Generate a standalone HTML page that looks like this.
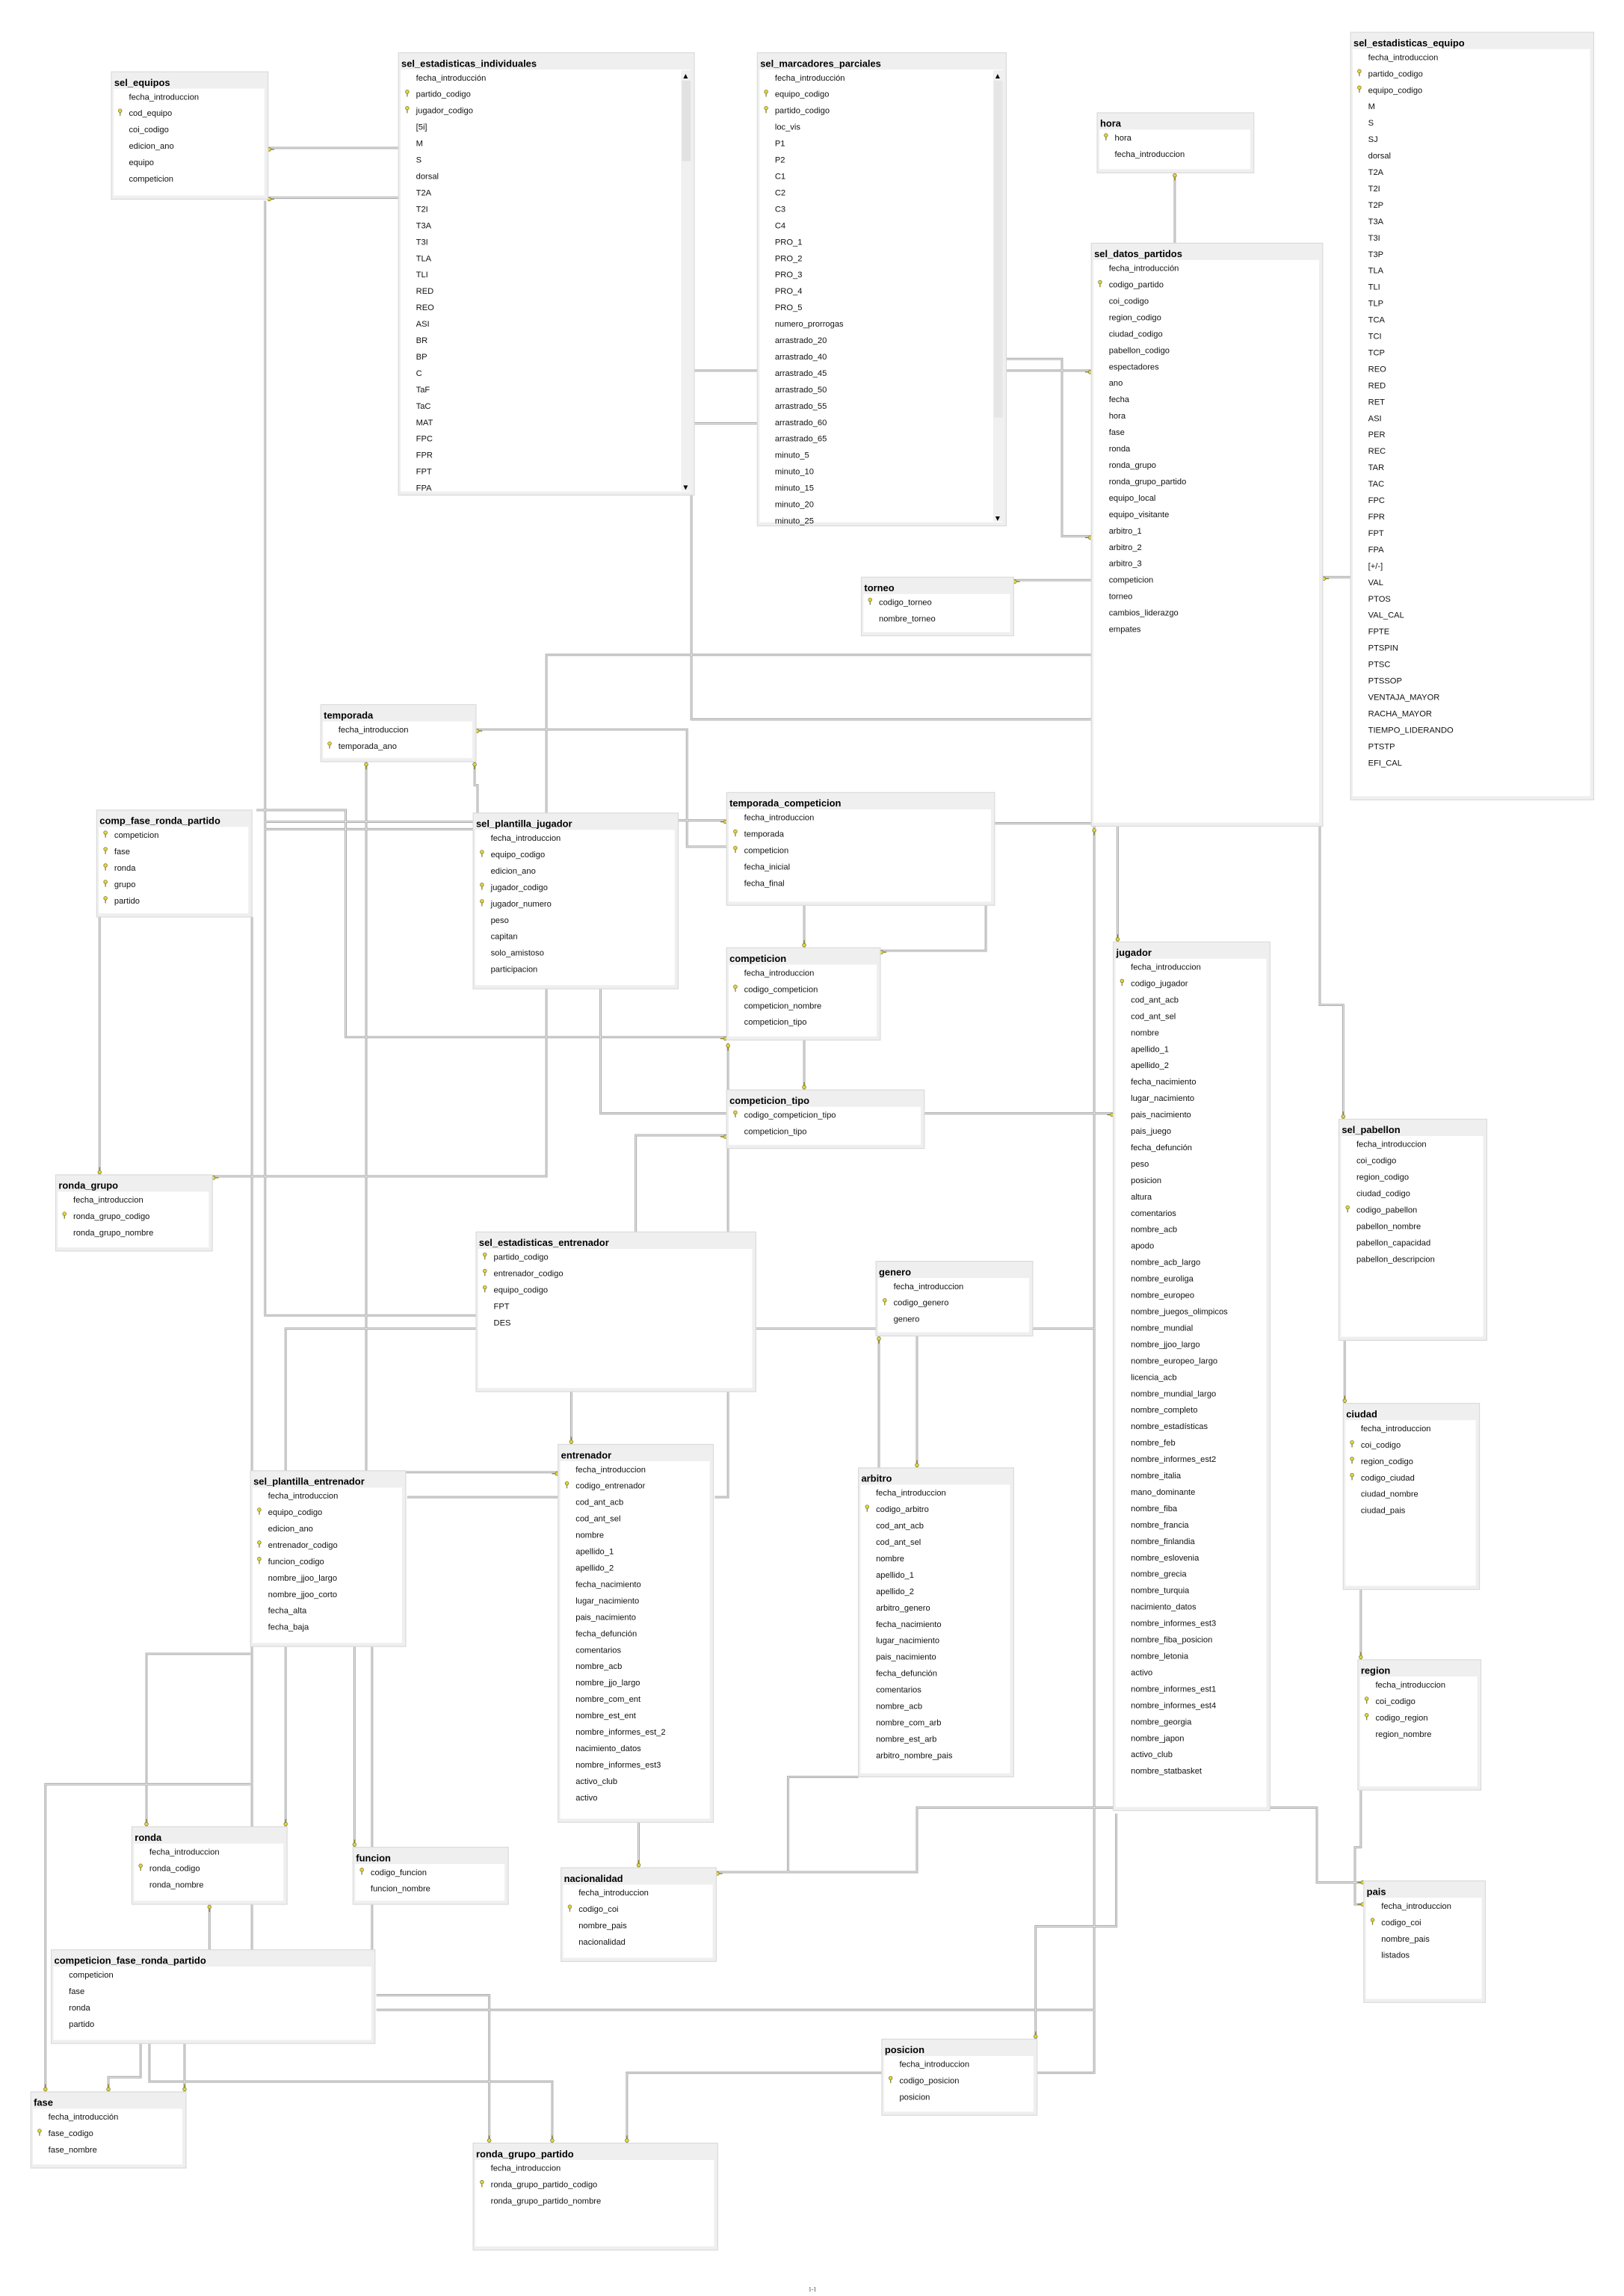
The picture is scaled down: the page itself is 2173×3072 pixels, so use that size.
<!DOCTYPE html>
<html><head><meta charset="utf-8"><style>
html,body{margin:0;padding:0;background:#fff}
svg{display:block}
.t{font-family:"Liberation Sans",sans-serif;font-weight:bold;font-size:6.6px;fill:#000}
.r{font-family:"Liberation Sans",sans-serif;font-size:5.7px;fill:#111}
.c1{fill:none;stroke:#a8a8a8;stroke-width:1.5}
.c2{fill:none;stroke:#f2f2f2;stroke-width:.45}
</style></head><body>
<svg width="2173" height="3072" viewBox="0 0 1108.67 1567.35" preserveAspectRatio="none" xmlns="http://www.w3.org/2000/svg" xmlns:xlink="http://www.w3.org/1999/xlink">
<defs>
<g id="k"><circle cx="0" cy="-1.2" r="1.2" fill="#e8d43c" stroke="#6b6b2a" stroke-width=".35"/><rect x="-.35" y="-.2" width=".7" height="2.4" fill="#8a8a30"/></g>
<path id="p" fill="none" d="M183,101H272M183,135H272M181,137V898H325M472,338V491H745M474,253H517M474,289H517M687,245H725V366H745M687,253H745M802,118V166M692,396H745M903,394H922M745,447H373V803H145M679,562H745M747,564V1415H428V1463M763,564V643M901,564V686H917V764M918,915V958M929,1085V1133M929,1222V1261H925V1300H931M867,1234H899V1285H931M760,1234H626V1278H489M586,1213H538V1278M762,1238V1315H707V1392M598,907H195V1247M705,907H747M600,912V1002M626,912V1002M434,841V775H496M549,710V744M549,618V647M673,618V649H601M631,760H760M410,675V760H496M325,498H469V578H496M463,560H496M324,520V536H326V555M250,520V1004M175,553H236V708H496M181,561H323M181,566H323M68,626V802M172,626V1331M171,1129H100V1247M171,1218H31V1428M277,1005H381M278,1022H381M488,1022H497V712M390,950V986M436,1244V1275M242,1124V1261M254,1124V1331M143,1300V1331M96,1395V1418H74V1428M102,1395V1421H377V1463M126,1395V1428M257,1362H334V1463M257,1372H747"/>
</defs>
<use xlink:href="#p" class="c1"/>
<use xlink:href="#p" class="c2"/>

<g>
<use xlink:href="#k" transform="translate(185,102) rotate(-90)"/><use xlink:href="#k" transform="translate(185,136) rotate(-90)"/>
<use xlink:href="#k" transform="translate(743,367) rotate(90)"/><use xlink:href="#k" transform="translate(743,254) rotate(90)"/>
<use xlink:href="#k" transform="translate(802,121)"/><use xlink:href="#k" transform="translate(694,397) rotate(-90)"/>
<use xlink:href="#k" transform="translate(905,395) rotate(-90)"/><use xlink:href="#k" transform="translate(147,804) rotate(-90)"/>
<use xlink:href="#k" transform="translate(747,568)"/><use xlink:href="#k" transform="translate(763,640) rotate(180)"/>
<use xlink:href="#k" transform="translate(917,761) rotate(180)"/><use xlink:href="#k" transform="translate(918,955) rotate(180)"/>
<use xlink:href="#k" transform="translate(929,1130) rotate(180)"/><use xlink:href="#k" transform="translate(929,1300) rotate(90)"/>
<use xlink:href="#k" transform="translate(929,1285) rotate(90)"/><use xlink:href="#k" transform="translate(491,1279) rotate(-90)"/>
<use xlink:href="#k" transform="translate(707,1389) rotate(180)"/><use xlink:href="#k" transform="translate(195,1244) rotate(180)"/>
<use xlink:href="#k" transform="translate(600,915)"/><use xlink:href="#k" transform="translate(626,999) rotate(180)"/>
<use xlink:href="#k" transform="translate(494,776) rotate(90)"/><use xlink:href="#k" transform="translate(549,741) rotate(180)"/>
<use xlink:href="#k" transform="translate(549,644) rotate(180)"/><use xlink:href="#k" transform="translate(603,650) rotate(-90)"/>
<use xlink:href="#k" transform="translate(758,761) rotate(90)"/><use xlink:href="#k" transform="translate(327,499) rotate(-90)"/>
<use xlink:href="#k" transform="translate(494,561) rotate(90)"/><use xlink:href="#k" transform="translate(324,523)"/>
<use xlink:href="#k" transform="translate(250,523)"/><use xlink:href="#k" transform="translate(494,709) rotate(90)"/>
<use xlink:href="#k" transform="translate(68,799) rotate(180)"/><use xlink:href="#k" transform="translate(100,1244) rotate(180)"/>
<use xlink:href="#k" transform="translate(31,1425) rotate(180)"/><use xlink:href="#k" transform="translate(379,1006) rotate(90)"/>
<use xlink:href="#k" transform="translate(497,715)"/><use xlink:href="#k" transform="translate(390,983) rotate(180)"/>
<use xlink:href="#k" transform="translate(436,1272) rotate(180)"/><use xlink:href="#k" transform="translate(242,1258) rotate(180)"/>
<use xlink:href="#k" transform="translate(143,1303)"/><use xlink:href="#k" transform="translate(74,1425) rotate(180)"/>
<use xlink:href="#k" transform="translate(377,1460) rotate(180)"/><use xlink:href="#k" transform="translate(126,1425) rotate(180)"/>
<use xlink:href="#k" transform="translate(334,1460) rotate(180)"/><use xlink:href="#k" transform="translate(428,1460) rotate(180)"/>
</g>

<g transform="translate(76,49)"><rect width="107" height="87" fill="#efefef" stroke="#dadada" stroke-width=".6"/><rect x="1.5" y="11.5" width="103" height="73" fill="#fff"/>
<text class="t" x="2" y="9.6">sel_equipos</text>
<text class="r" y="19"><tspan x="12">fecha_introduccion</tspan><tspan x="12" dy="11.2">cod_equipo</tspan><tspan x="12" dy="11.2">coi_codigo</tspan><tspan x="12" dy="11.2">edicion_ano</tspan><tspan x="12" dy="11.2">equipo</tspan><tspan x="12" dy="11.2">competicion</tspan></text>
<use xlink:href="#k" x="6" y="27.8"/></g>

<g transform="translate(272,36)"><rect width="202" height="302" fill="#efefef" stroke="#dadada" stroke-width=".6"/><rect x="1.5" y="11.5" width="198" height="288" fill="#fff"/>
<rect x="193" y="12" width="7" height="287" fill="#f0f0f0"/><rect x="193.5" y="19" width="6" height="55" fill="#e2e2e2"/>
<text x="194.5" y="17" style="font-size:4px;font-family:'DejaVu Sans'">▲</text><text x="194.5" y="298" style="font-size:4px;font-family:'DejaVu Sans'">▼</text>
<text class="t" x="2" y="9.6">sel_estadisticas_individuales</text>
<text class="r" y="19"><tspan x="12">fecha_introducción</tspan><tspan x="12" dy="11.2">partido_codigo</tspan><tspan x="12" dy="11.2">jugador_codigo</tspan><tspan x="12" dy="11.2">[5i]</tspan><tspan x="12" dy="11.2">M</tspan><tspan x="12" dy="11.2">S</tspan><tspan x="12" dy="11.2">dorsal</tspan><tspan x="12" dy="11.2">T2A</tspan><tspan x="12" dy="11.2">T2I</tspan><tspan x="12" dy="11.2">T3A</tspan><tspan x="12" dy="11.2">T3I</tspan><tspan x="12" dy="11.2">TLA</tspan><tspan x="12" dy="11.2">TLI</tspan><tspan x="12" dy="11.2">RED</tspan><tspan x="12" dy="11.2">REO</tspan><tspan x="12" dy="11.2">ASI</tspan><tspan x="12" dy="11.2">BR</tspan><tspan x="12" dy="11.2">BP</tspan><tspan x="12" dy="11.2">C</tspan><tspan x="12" dy="11.2">TaF</tspan><tspan x="12" dy="11.2">TaC</tspan><tspan x="12" dy="11.2">MAT</tspan><tspan x="12" dy="11.2">FPC</tspan><tspan x="12" dy="11.2">FPR</tspan><tspan x="12" dy="11.2">FPT</tspan><tspan x="12" dy="11.2">FPA</tspan></text>
<use xlink:href="#k" x="6" y="27.8"/><use xlink:href="#k" x="6" y="39"/></g>

<g transform="translate(517,36)"><rect width="170" height="323" fill="#efefef" stroke="#dadada" stroke-width=".6"/><rect x="1.5" y="11.5" width="166" height="309" fill="#fff"/>
<rect x="161" y="12" width="7" height="308" fill="#f0f0f0"/><rect x="161.5" y="19" width="6" height="230" fill="#e6e6e6"/>
<text x="162.5" y="17" style="font-size:4px;font-family:'DejaVu Sans'">▲</text><text x="162.5" y="319" style="font-size:4px;font-family:'DejaVu Sans'">▼</text>
<text class="t" x="2" y="9.6">sel_marcadores_parciales</text>
<text class="r" y="19"><tspan x="12">fecha_introducción</tspan><tspan x="12" dy="11.2">equipo_codigo</tspan><tspan x="12" dy="11.2">partido_codigo</tspan><tspan x="12" dy="11.2">loc_vis</tspan><tspan x="12" dy="11.2">P1</tspan><tspan x="12" dy="11.2">P2</tspan><tspan x="12" dy="11.2">C1</tspan><tspan x="12" dy="11.2">C2</tspan><tspan x="12" dy="11.2">C3</tspan><tspan x="12" dy="11.2">C4</tspan><tspan x="12" dy="11.2">PRO_1</tspan><tspan x="12" dy="11.2">PRO_2</tspan><tspan x="12" dy="11.2">PRO_3</tspan><tspan x="12" dy="11.2">PRO_4</tspan><tspan x="12" dy="11.2">PRO_5</tspan><tspan x="12" dy="11.2">numero_prorrogas</tspan><tspan x="12" dy="11.2">arrastrado_20</tspan><tspan x="12" dy="11.2">arrastrado_40</tspan><tspan x="12" dy="11.2">arrastrado_45</tspan><tspan x="12" dy="11.2">arrastrado_50</tspan><tspan x="12" dy="11.2">arrastrado_55</tspan><tspan x="12" dy="11.2">arrastrado_60</tspan><tspan x="12" dy="11.2">arrastrado_65</tspan><tspan x="12" dy="11.2">minuto_5</tspan><tspan x="12" dy="11.2">minuto_10</tspan><tspan x="12" dy="11.2">minuto_15</tspan><tspan x="12" dy="11.2">minuto_20</tspan><tspan x="12" dy="11.2">minuto_25</tspan></text>
<use xlink:href="#k" x="6" y="27.8"/><use xlink:href="#k" x="6" y="39"/></g>

<g transform="translate(922,22)"><rect width="166" height="524" fill="#efefef" stroke="#dadada" stroke-width=".6"/><rect x="1.5" y="11.5" width="162" height="510" fill="#fff"/>
<text class="t" x="2" y="9.6">sel_estadisticas_equipo</text>
<text class="r" y="19"><tspan x="12">fecha_introduccion</tspan><tspan x="12" dy="11.2">partido_codigo</tspan><tspan x="12" dy="11.2">equipo_codigo</tspan><tspan x="12" dy="11.2">M</tspan><tspan x="12" dy="11.2">S</tspan><tspan x="12" dy="11.2">SJ</tspan><tspan x="12" dy="11.2">dorsal</tspan><tspan x="12" dy="11.2">T2A</tspan><tspan x="12" dy="11.2">T2I</tspan><tspan x="12" dy="11.2">T2P</tspan><tspan x="12" dy="11.2">T3A</tspan><tspan x="12" dy="11.2">T3I</tspan><tspan x="12" dy="11.2">T3P</tspan><tspan x="12" dy="11.2">TLA</tspan><tspan x="12" dy="11.2">TLI</tspan><tspan x="12" dy="11.2">TLP</tspan><tspan x="12" dy="11.2">TCA</tspan><tspan x="12" dy="11.2">TCI</tspan><tspan x="12" dy="11.2">TCP</tspan><tspan x="12" dy="11.2">REO</tspan><tspan x="12" dy="11.2">RED</tspan><tspan x="12" dy="11.2">RET</tspan><tspan x="12" dy="11.2">ASI</tspan><tspan x="12" dy="11.2">PER</tspan><tspan x="12" dy="11.2">REC</tspan><tspan x="12" dy="11.2">TAR</tspan><tspan x="12" dy="11.2">TAC</tspan><tspan x="12" dy="11.2">FPC</tspan><tspan x="12" dy="11.2">FPR</tspan><tspan x="12" dy="11.2">FPT</tspan><tspan x="12" dy="11.2">FPA</tspan><tspan x="12" dy="11.2">[+/-]</tspan><tspan x="12" dy="11.2">VAL</tspan><tspan x="12" dy="11.2">PTOS</tspan><tspan x="12" dy="11.2">VAL_CAL</tspan><tspan x="12" dy="11.2">FPTE</tspan><tspan x="12" dy="11.2">PTSPIN</tspan><tspan x="12" dy="11.2">PTSC</tspan><tspan x="12" dy="11.2">PTSSOP</tspan><tspan x="12" dy="11.2">VENTAJA_MAYOR</tspan><tspan x="12" dy="11.2">RACHA_MAYOR</tspan><tspan x="12" dy="11.2">TIEMPO_LIDERANDO</tspan><tspan x="12" dy="11.2">PTSTP</tspan><tspan x="12" dy="11.2">EFI_CAL</tspan></text>
<use xlink:href="#k" x="6" y="27.8"/><use xlink:href="#k" x="6" y="39"/></g>

<g transform="translate(749,77)"><rect width="107" height="41" fill="#efefef" stroke="#dadada" stroke-width=".6"/><rect x="1.5" y="11.5" width="103" height="27" fill="#fff"/>
<text class="t" x="2" y="9.6">hora</text>
<text class="r" y="19"><tspan x="12">hora</tspan><tspan x="12" dy="11.2">fecha_introduccion</tspan></text>
<use xlink:href="#k" x="6" y="16.6"/></g>

<g transform="translate(745,166)"><rect width="158" height="398" fill="#efefef" stroke="#dadada" stroke-width=".6"/><rect x="1.5" y="11.5" width="154" height="384" fill="#fff"/>
<text class="t" x="2" y="9.6">sel_datos_partidos</text>
<text class="r" y="19"><tspan x="12">fecha_introducción</tspan><tspan x="12" dy="11.2">codigo_partido</tspan><tspan x="12" dy="11.2">coi_codigo</tspan><tspan x="12" dy="11.2">region_codigo</tspan><tspan x="12" dy="11.2">ciudad_codigo</tspan><tspan x="12" dy="11.2">pabellon_codigo</tspan><tspan x="12" dy="11.2">espectadores</tspan><tspan x="12" dy="11.2">ano</tspan><tspan x="12" dy="11.2">fecha</tspan><tspan x="12" dy="11.2">hora</tspan><tspan x="12" dy="11.2">fase</tspan><tspan x="12" dy="11.2">ronda</tspan><tspan x="12" dy="11.2">ronda_grupo</tspan><tspan x="12" dy="11.2">ronda_grupo_partido</tspan><tspan x="12" dy="11.2">equipo_local</tspan><tspan x="12" dy="11.2">equipo_visitante</tspan><tspan x="12" dy="11.2">arbitro_1</tspan><tspan x="12" dy="11.2">arbitro_2</tspan><tspan x="12" dy="11.2">arbitro_3</tspan><tspan x="12" dy="11.2">competicion</tspan><tspan x="12" dy="11.2">torneo</tspan><tspan x="12" dy="11.2">cambios_liderazgo</tspan><tspan x="12" dy="11.2">empates</tspan></text>
<use xlink:href="#k" x="6" y="27.8"/></g>

<g transform="translate(588,394)"><rect width="104" height="40" fill="#efefef" stroke="#dadada" stroke-width=".6"/><rect x="1.5" y="11.5" width="100" height="26" fill="#fff"/>
<text class="t" x="2" y="9.6">torneo</text>
<text class="r" y="19"><tspan x="12">codigo_torneo</tspan><tspan x="12" dy="11.2">nombre_torneo</tspan></text>
<use xlink:href="#k" x="6" y="16.6"/></g>

<g transform="translate(219,481)"><rect width="106" height="39" fill="#efefef" stroke="#dadada" stroke-width=".6"/><rect x="1.5" y="11.5" width="102" height="25" fill="#fff"/>
<text class="t" x="2" y="9.6">temporada</text>
<text class="r" y="19"><tspan x="12">fecha_introduccion</tspan><tspan x="12" dy="11.2">temporada_ano</tspan></text>
<use xlink:href="#k" x="6" y="27.8"/></g>

<g transform="translate(496,541)"><rect width="183" height="77" fill="#efefef" stroke="#dadada" stroke-width=".6"/><rect x="1.5" y="11.5" width="179" height="63" fill="#fff"/>
<text class="t" x="2" y="9.6">temporada_competicion</text>
<text class="r" y="19"><tspan x="12">fecha_introduccion</tspan><tspan x="12" dy="11.2">temporada</tspan><tspan x="12" dy="11.2">competicion</tspan><tspan x="12" dy="11.2">fecha_inicial</tspan><tspan x="12" dy="11.2">fecha_final</tspan></text>
<use xlink:href="#k" x="6" y="27.8"/><use xlink:href="#k" x="6" y="39"/></g>

<g transform="translate(66,553)"><rect width="106" height="73" fill="#efefef" stroke="#dadada" stroke-width=".6"/><rect x="1.5" y="11.5" width="102" height="59" fill="#fff"/>
<text class="t" x="2" y="9.6">comp_fase_ronda_partido</text>
<text class="r" y="19"><tspan x="12">competicion</tspan><tspan x="12" dy="11.2">fase</tspan><tspan x="12" dy="11.2">ronda</tspan><tspan x="12" dy="11.2">grupo</tspan><tspan x="12" dy="11.2">partido</tspan></text>
<use xlink:href="#k" x="6" y="16.6"/><use xlink:href="#k" x="6" y="27.8"/><use xlink:href="#k" x="6" y="39"/><use xlink:href="#k" x="6" y="50.2"/><use xlink:href="#k" x="6" y="61.4"/></g>

<g transform="translate(323,555)"><rect width="140" height="120" fill="#efefef" stroke="#dadada" stroke-width=".6"/><rect x="1.5" y="11.5" width="136" height="106" fill="#fff"/>
<text class="t" x="2" y="9.6">sel_plantilla_jugador</text>
<text class="r" y="19"><tspan x="12">fecha_introduccion</tspan><tspan x="12" dy="11.2">equipo_codigo</tspan><tspan x="12" dy="11.2">edicion_ano</tspan><tspan x="12" dy="11.2">jugador_codigo</tspan><tspan x="12" dy="11.2">jugador_numero</tspan><tspan x="12" dy="11.2">peso</tspan><tspan x="12" dy="11.2">capitan</tspan><tspan x="12" dy="11.2">solo_amistoso</tspan><tspan x="12" dy="11.2">participacion</tspan></text>
<use xlink:href="#k" x="6" y="27.8"/><use xlink:href="#k" x="6" y="50.2"/><use xlink:href="#k" x="6" y="61.4"/></g>

<g transform="translate(496,647)"><rect width="105" height="63" fill="#efefef" stroke="#dadada" stroke-width=".6"/><rect x="1.5" y="11.5" width="101" height="49" fill="#fff"/>
<text class="t" x="2" y="9.6">competicion</text>
<text class="r" y="19"><tspan x="12">fecha_introduccion</tspan><tspan x="12" dy="11.2">codigo_competicion</tspan><tspan x="12" dy="11.2">competicion_nombre</tspan><tspan x="12" dy="11.2">competicion_tipo</tspan></text>
<use xlink:href="#k" x="6" y="27.8"/></g>

<g transform="translate(760,643)"><rect width="107" height="593" fill="#efefef" stroke="#dadada" stroke-width=".6"/><rect x="1.5" y="11.5" width="103" height="579" fill="#fff"/>
<text class="t" x="2" y="9.6">jugador</text>
<text class="r" y="19"><tspan x="12">fecha_introduccion</tspan><tspan x="12" dy="11.2">codigo_jugador</tspan><tspan x="12" dy="11.2">cod_ant_acb</tspan><tspan x="12" dy="11.2">cod_ant_sel</tspan><tspan x="12" dy="11.2">nombre</tspan><tspan x="12" dy="11.2">apellido_1</tspan><tspan x="12" dy="11.2">apellido_2</tspan><tspan x="12" dy="11.2">fecha_nacimiento</tspan><tspan x="12" dy="11.2">lugar_nacimiento</tspan><tspan x="12" dy="11.2">pais_nacimiento</tspan><tspan x="12" dy="11.2">pais_juego</tspan><tspan x="12" dy="11.2">fecha_defunción</tspan><tspan x="12" dy="11.2">peso</tspan><tspan x="12" dy="11.2">posicion</tspan><tspan x="12" dy="11.2">altura</tspan><tspan x="12" dy="11.2">comentarios</tspan><tspan x="12" dy="11.2">nombre_acb</tspan><tspan x="12" dy="11.2">apodo</tspan><tspan x="12" dy="11.2">nombre_acb_largo</tspan><tspan x="12" dy="11.2">nombre_euroliga</tspan><tspan x="12" dy="11.2">nombre_europeo</tspan><tspan x="12" dy="11.2">nombre_juegos_olimpicos</tspan><tspan x="12" dy="11.2">nombre_mundial</tspan><tspan x="12" dy="11.2">nombre_jjoo_largo</tspan><tspan x="12" dy="11.2">nombre_europeo_largo</tspan><tspan x="12" dy="11.2">licencia_acb</tspan><tspan x="12" dy="11.2">nombre_mundial_largo</tspan><tspan x="12" dy="11.2">nombre_completo</tspan><tspan x="12" dy="11.2">nombre_estadísticas</tspan><tspan x="12" dy="11.2">nombre_feb</tspan><tspan x="12" dy="11.2">nombre_informes_est2</tspan><tspan x="12" dy="11.2">nombre_italia</tspan><tspan x="12" dy="11.2">mano_dominante</tspan><tspan x="12" dy="11.2">nombre_fiba</tspan><tspan x="12" dy="11.2">nombre_francia</tspan><tspan x="12" dy="11.2">nombre_finlandia</tspan><tspan x="12" dy="11.2">nombre_eslovenia</tspan><tspan x="12" dy="11.2">nombre_grecia</tspan><tspan x="12" dy="11.2">nombre_turquia</tspan><tspan x="12" dy="11.2">nacimiento_datos</tspan><tspan x="12" dy="11.2">nombre_informes_est3</tspan><tspan x="12" dy="11.2">nombre_fiba_posicion</tspan><tspan x="12" dy="11.2">nombre_letonia</tspan><tspan x="12" dy="11.2">activo</tspan><tspan x="12" dy="11.2">nombre_informes_est1</tspan><tspan x="12" dy="11.2">nombre_informes_est4</tspan><tspan x="12" dy="11.2">nombre_georgia</tspan><tspan x="12" dy="11.2">nombre_japon</tspan><tspan x="12" dy="11.2">activo_club</tspan><tspan x="12" dy="11.2">nombre_statbasket</tspan></text>
<use xlink:href="#k" x="6" y="27.8"/></g>

<g transform="translate(496,744)"><rect width="135" height="40" fill="#efefef" stroke="#dadada" stroke-width=".6"/><rect x="1.5" y="11.5" width="131" height="26" fill="#fff"/>
<text class="t" x="2" y="9.6">competicion_tipo</text>
<text class="r" y="19"><tspan x="12">codigo_competicion_tipo</tspan><tspan x="12" dy="11.2">competicion_tipo</tspan></text>
<use xlink:href="#k" x="6" y="16.6"/></g>

<g transform="translate(38,802)"><rect width="107" height="52" fill="#efefef" stroke="#dadada" stroke-width=".6"/><rect x="1.5" y="11.5" width="103" height="38" fill="#fff"/>
<text class="t" x="2" y="9.6">ronda_grupo</text>
<text class="r" y="19"><tspan x="12">fecha_introduccion</tspan><tspan x="12" dy="11.2">ronda_grupo_codigo</tspan><tspan x="12" dy="11.2">ronda_grupo_nombre</tspan></text>
<use xlink:href="#k" x="6" y="27.8"/></g>

<g transform="translate(914,764)"><rect width="101" height="151" fill="#efefef" stroke="#dadada" stroke-width=".6"/><rect x="1.5" y="11.5" width="97" height="137" fill="#fff"/>
<text class="t" x="2" y="9.6">sel_pabellon</text>
<text class="r" y="19"><tspan x="12">fecha_introduccion</tspan><tspan x="12" dy="11.2">coi_codigo</tspan><tspan x="12" dy="11.2">region_codigo</tspan><tspan x="12" dy="11.2">ciudad_codigo</tspan><tspan x="12" dy="11.2">codigo_pabellon</tspan><tspan x="12" dy="11.2">pabellon_nombre</tspan><tspan x="12" dy="11.2">pabellon_capacidad</tspan><tspan x="12" dy="11.2">pabellon_descripcion</tspan></text>
<use xlink:href="#k" x="6" y="61.4"/></g>

<g transform="translate(325,841)"><rect width="191" height="109" fill="#efefef" stroke="#dadada" stroke-width=".6"/><rect x="1.5" y="11.5" width="187" height="95" fill="#fff"/>
<text class="t" x="2" y="9.6">sel_estadisticas_entrenador</text>
<text class="r" y="19"><tspan x="12">partido_codigo</tspan><tspan x="12" dy="11.2">entrenador_codigo</tspan><tspan x="12" dy="11.2">equipo_codigo</tspan><tspan x="12" dy="11.2">FPT</tspan><tspan x="12" dy="11.2">DES</tspan></text>
<use xlink:href="#k" x="6" y="16.6"/><use xlink:href="#k" x="6" y="27.8"/><use xlink:href="#k" x="6" y="39"/></g>

<g transform="translate(598,861)"><rect width="107" height="51" fill="#efefef" stroke="#dadada" stroke-width=".6"/><rect x="1.5" y="11.5" width="103" height="37" fill="#fff"/>
<text class="t" x="2" y="9.6">genero</text>
<text class="r" y="19"><tspan x="12">fecha_introduccion</tspan><tspan x="12" dy="11.2">codigo_genero</tspan><tspan x="12" dy="11.2">genero</tspan></text>
<use xlink:href="#k" x="6" y="27.8"/></g>

<g transform="translate(917,958)"><rect width="93" height="127" fill="#efefef" stroke="#dadada" stroke-width=".6"/><rect x="1.5" y="11.5" width="89" height="113" fill="#fff"/>
<text class="t" x="2" y="9.6">ciudad</text>
<text class="r" y="19"><tspan x="12">fecha_introduccion</tspan><tspan x="12" dy="11.2">coi_codigo</tspan><tspan x="12" dy="11.2">region_codigo</tspan><tspan x="12" dy="11.2">codigo_ciudad</tspan><tspan x="12" dy="11.2">ciudad_nombre</tspan><tspan x="12" dy="11.2">ciudad_pais</tspan></text>
<use xlink:href="#k" x="6" y="27.8"/><use xlink:href="#k" x="6" y="39"/><use xlink:href="#k" x="6" y="50.2"/></g>

<g transform="translate(381,986)"><rect width="106" height="258" fill="#efefef" stroke="#dadada" stroke-width=".6"/><rect x="1.5" y="11.5" width="102" height="244" fill="#fff"/>
<text class="t" x="2" y="9.6">entrenador</text>
<text class="r" y="19"><tspan x="12">fecha_introduccion</tspan><tspan x="12" dy="11.2">codigo_entrenador</tspan><tspan x="12" dy="11.2">cod_ant_acb</tspan><tspan x="12" dy="11.2">cod_ant_sel</tspan><tspan x="12" dy="11.2">nombre</tspan><tspan x="12" dy="11.2">apellido_1</tspan><tspan x="12" dy="11.2">apellido_2</tspan><tspan x="12" dy="11.2">fecha_nacimiento</tspan><tspan x="12" dy="11.2">lugar_nacimiento</tspan><tspan x="12" dy="11.2">pais_nacimiento</tspan><tspan x="12" dy="11.2">fecha_defunción</tspan><tspan x="12" dy="11.2">comentarios</tspan><tspan x="12" dy="11.2">nombre_acb</tspan><tspan x="12" dy="11.2">nombre_jjo_largo</tspan><tspan x="12" dy="11.2">nombre_com_ent</tspan><tspan x="12" dy="11.2">nombre_est_ent</tspan><tspan x="12" dy="11.2">nombre_informes_est_2</tspan><tspan x="12" dy="11.2">nacimiento_datos</tspan><tspan x="12" dy="11.2">nombre_informes_est3</tspan><tspan x="12" dy="11.2">activo_club</tspan><tspan x="12" dy="11.2">activo</tspan></text>
<use xlink:href="#k" x="6" y="27.8"/></g>

<g transform="translate(586,1002)"><rect width="106" height="211" fill="#efefef" stroke="#dadada" stroke-width=".6"/><rect x="1.5" y="11.5" width="102" height="197" fill="#fff"/>
<text class="t" x="2" y="9.6">arbitro</text>
<text class="r" y="19"><tspan x="12">fecha_introduccion</tspan><tspan x="12" dy="11.2">codigo_arbitro</tspan><tspan x="12" dy="11.2">cod_ant_acb</tspan><tspan x="12" dy="11.2">cod_ant_sel</tspan><tspan x="12" dy="11.2">nombre</tspan><tspan x="12" dy="11.2">apellido_1</tspan><tspan x="12" dy="11.2">apellido_2</tspan><tspan x="12" dy="11.2">arbitro_genero</tspan><tspan x="12" dy="11.2">fecha_nacimiento</tspan><tspan x="12" dy="11.2">lugar_nacimiento</tspan><tspan x="12" dy="11.2">pais_nacimiento</tspan><tspan x="12" dy="11.2">fecha_defunción</tspan><tspan x="12" dy="11.2">comentarios</tspan><tspan x="12" dy="11.2">nombre_acb</tspan><tspan x="12" dy="11.2">nombre_com_arb</tspan><tspan x="12" dy="11.2">nombre_est_arb</tspan><tspan x="12" dy="11.2">arbitro_nombre_pais</tspan></text>
<use xlink:href="#k" x="6" y="27.8"/></g>

<g transform="translate(171,1004)"><rect width="106" height="120" fill="#efefef" stroke="#dadada" stroke-width=".6"/><rect x="1.5" y="11.5" width="102" height="106" fill="#fff"/>
<text class="t" x="2" y="9.6">sel_plantilla_entrenador</text>
<text class="r" y="19"><tspan x="12">fecha_introduccion</tspan><tspan x="12" dy="11.2">equipo_codigo</tspan><tspan x="12" dy="11.2">edicion_ano</tspan><tspan x="12" dy="11.2">entrenador_codigo</tspan><tspan x="12" dy="11.2">funcion_codigo</tspan><tspan x="12" dy="11.2">nombre_jjoo_largo</tspan><tspan x="12" dy="11.2">nombre_jjoo_corto</tspan><tspan x="12" dy="11.2">fecha_alta</tspan><tspan x="12" dy="11.2">fecha_baja</tspan></text>
<use xlink:href="#k" x="6" y="27.8"/><use xlink:href="#k" x="6" y="50.2"/><use xlink:href="#k" x="6" y="61.4"/></g>

<g transform="translate(927,1133)"><rect width="84" height="89" fill="#efefef" stroke="#dadada" stroke-width=".6"/><rect x="1.5" y="11.5" width="80" height="75" fill="#fff"/>
<text class="t" x="2" y="9.6">region</text>
<text class="r" y="19"><tspan x="12">fecha_introduccion</tspan><tspan x="12" dy="11.2">coi_codigo</tspan><tspan x="12" dy="11.2">codigo_region</tspan><tspan x="12" dy="11.2">region_nombre</tspan></text>
<use xlink:href="#k" x="6" y="27.8"/><use xlink:href="#k" x="6" y="39"/></g>

<g transform="translate(90,1247)"><rect width="106" height="53" fill="#efefef" stroke="#dadada" stroke-width=".6"/><rect x="1.5" y="11.5" width="102" height="39" fill="#fff"/>
<text class="t" x="2" y="9.6">ronda</text>
<text class="r" y="19"><tspan x="12">fecha_introduccion</tspan><tspan x="12" dy="11.2">ronda_codigo</tspan><tspan x="12" dy="11.2">ronda_nombre</tspan></text>
<use xlink:href="#k" x="6" y="27.8"/></g>

<g transform="translate(241,1261)"><rect width="106" height="39" fill="#efefef" stroke="#dadada" stroke-width=".6"/><rect x="1.5" y="11.5" width="102" height="25" fill="#fff"/>
<text class="t" x="2" y="9.6">funcion</text>
<text class="r" y="19"><tspan x="12">codigo_funcion</tspan><tspan x="12" dy="11.2">funcion_nombre</tspan></text>
<use xlink:href="#k" x="6" y="16.6"/></g>

<g transform="translate(383,1275)"><rect width="106" height="64" fill="#efefef" stroke="#dadada" stroke-width=".6"/><rect x="1.5" y="11.5" width="102" height="50" fill="#fff"/>
<text class="t" x="2" y="9.6">nacionalidad</text>
<text class="r" y="19"><tspan x="12">fecha_introduccion</tspan><tspan x="12" dy="11.2">codigo_coi</tspan><tspan x="12" dy="11.2">nombre_pais</tspan><tspan x="12" dy="11.2">nacionalidad</tspan></text>
<use xlink:href="#k" x="6" y="27.8"/></g>

<g transform="translate(931,1284)"><rect width="83" height="83" fill="#efefef" stroke="#dadada" stroke-width=".6"/><rect x="1.5" y="11.5" width="79" height="69" fill="#fff"/>
<text class="t" x="2" y="9.6">pais</text>
<text class="r" y="19"><tspan x="12">fecha_introduccion</tspan><tspan x="12" dy="11.2">codigo_coi</tspan><tspan x="12" dy="11.2">nombre_pais</tspan><tspan x="12" dy="11.2">listados</tspan></text>
<use xlink:href="#k" x="6" y="27.8"/></g>

<g transform="translate(35,1331)"><rect width="221" height="64" fill="#efefef" stroke="#dadada" stroke-width=".6"/><rect x="1.5" y="11.5" width="217" height="50" fill="#fff"/>
<text class="t" x="2" y="9.6">competicion_fase_ronda_partido</text>
<text class="r" y="19"><tspan x="12">competicion</tspan><tspan x="12" dy="11.2">fase</tspan><tspan x="12" dy="11.2">ronda</tspan><tspan x="12" dy="11.2">partido</tspan></text></g>

<g transform="translate(602,1392)"><rect width="106" height="52" fill="#efefef" stroke="#dadada" stroke-width=".6"/><rect x="1.5" y="11.5" width="102" height="38" fill="#fff"/>
<text class="t" x="2" y="9.6">posicion</text>
<text class="r" y="19"><tspan x="12">fecha_introduccion</tspan><tspan x="12" dy="11.2">codigo_posicion</tspan><tspan x="12" dy="11.2">posicion</tspan></text>
<use xlink:href="#k" x="6" y="27.8"/></g>

<g transform="translate(21,1428)"><rect width="106" height="52" fill="#efefef" stroke="#dadada" stroke-width=".6"/><rect x="1.5" y="11.5" width="102" height="38" fill="#fff"/>
<text class="t" x="2" y="9.6">fase</text>
<text class="r" y="19"><tspan x="12">fecha_introducción</tspan><tspan x="12" dy="11.2">fase_codigo</tspan><tspan x="12" dy="11.2">fase_nombre</tspan></text>
<use xlink:href="#k" x="6" y="27.8"/></g>

<g transform="translate(323,1463)"><rect width="167" height="73" fill="#efefef" stroke="#dadada" stroke-width=".6"/><rect x="1.5" y="11.5" width="163" height="59" fill="#fff"/>
<text class="t" x="2" y="9.6">ronda_grupo_partido</text>
<text class="r" y="19"><tspan x="12">fecha_introduccion</tspan><tspan x="12" dy="11.2">ronda_grupo_partido_codigo</tspan><tspan x="12" dy="11.2">ronda_grupo_partido_nombre</tspan></text>
<use xlink:href="#k" x="6" y="27.8"/></g>

<text x="552" y="1564" style="font-family:'Liberation Serif',serif;font-size:4px;fill:#333">1-1</text>
</svg>
</body></html>
